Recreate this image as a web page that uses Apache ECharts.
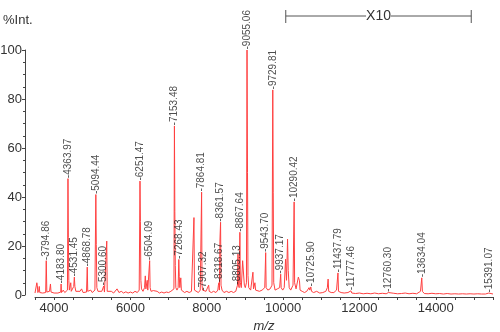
<!DOCTYPE html>
<html>
<head>
<meta charset="utf-8">
<script src="https://cdn.jsdelivr.net/npm/echarts@6/dist/echarts.min.js"></script>
<style>
html,body{margin:0;padding:0;background:#fff;}
#chart{width:500px;height:332px;}
</style>
</head>
<body>
<div id="chart"></div>
<script>
// Spectrum profile (m/z, %Int.)
var profileMz = [
3500,3530,3548,3560,3575,3600,3612,3625,3660,3700,3740,3780,3795,3810,3850,3880,3905,3920,3960,4000,
4050,4100,4150,4175,4184,4195,4240,4280,4320,4350,4364,4374,4386,4400,4425,4437,4450,4490,4515,4531,
4545,4570,4620,4680,4720,4760,4800,4850,4869,4882,4920,4960,5000,5040,5070,5094,5106,5120,5150,5200,
5250,5285,5301,5320,5360,5380,5392,5440,5500,5560,5600,5650,5700,5760,5820,5880,5940,6000,6060,6120,
6180,6230,6251,6262,6274,6290,6330,6370,6390,6405,6425,6440,6455,6490,6504,6516,6540,6600,6650,6700,
6760,6820,6880,6940,7000,7060,7110,7140,7153,7164,7176,7190,7220,7250,7268,7280,7295,7320,7335,7360,
7420,7480,7540,7600,7640,7665,7678,7720,7780,7830,7865,7876,7890,7907,7930,7980,8020,8050,8065,8120,
8180,8240,8290,8305,8319,8332,8345,8362,8374,8400,8450,8520,8580,8640,8700,8760,8790,8805,8818,8830,
8850,8868,8880,8905,8940,8966,8985,9010,9040,9055,9068,9080,9100,9150,9210,9225,9262,9280,9330,9380,
9450,9520,9544,9556,9600,9660,9710,9730,9742,9755,9790,9850,9910,9937,9950,9990,10030,10065,10090,10117,
10135,10160,10200,10260,10290,10302,10340,10400,10430,10445,10500,10560,10620,10680,10700,10726,10745,10800,10880,10960,
11040,11120,11160,11180,11195,11260,11330,11400,11438,11452,11520,11600,11700,11777,11800,11900,12000,12100,12200,12300,
12400,12500,12600,12700,12760,12800,12900,13000,13100,13200,13300,13400,13500,13600,13634,13650,13700,13800,13900,14000,
14100,14200,14300,14400,14500,14600,14700,14800,14900,15000,15100,15200,15300,15391,15500
];
var profileInt = [
0.8,1.5,5,4,1,2,3.5,1,1.8,0.8,1.5,1,14,1.2,0.8,1.5,4.5,1.2,2,0.8,
1.5,0.8,1.5,1.2,4.5,1,2,1,1.5,2,47.5,23.5,6,2,1.5,5,1.5,2,3.5,7.3,
3.5,1.5,1,1.5,2.5,1,1.8,1.2,11.4,1.5,1,2,1,1.5,2,41,20.7,3,1.5,1,
1.5,2,3.7,1.2,2,22,1.5,1,1.5,0.8,1.5,2.5,1,1.5,0.8,1.3,0.8,1.2,0.8,1.5,
1,2,46.5,30,6,2.5,1.5,3,7.8,2.5,3,6,2,2.5,14,3,1.5,1.8,1,1.5,
0.8,1.2,0.8,1.2,1,1.5,1.5,2.5,69,34,12,3,2,3,14.5,7.5,3,7,2,1.5,
1,1.5,1,1.5,2,31.6,2,1.5,1,2,42,4,2,1.5,1.2,1.5,1,4,1.5,1,
1.5,1,2,4,5,2,22,29.7,4,2,1,1.5,1,1.5,1,1.5,2,4,16.7,4,
3,25.6,5,3,14,14.6,4,3,5,100,50,8,3,2,9.3,2.5,5,2,2,1.5,
2,3,17.3,3,2,2.5,4,83.7,41.7,5,2,2.5,3,8.5,3,2,3,14.6,6,22.8,
10,3,2,4,38,5,2.5,7.3,5.8,2,1.5,1,1.5,3,2,3.3,1.5,1,1.5,0.8,
1,1.5,3,6.5,1.5,1,1,2,9,1.5,1,0.8,1,1.7,0.8,0.6,0.8,0.5,0.7,0.5,
0.8,0.5,0.7,0.5,1,0.5,0.7,0.5,0.6,0.8,0.5,0.7,0.5,1.5,7,1.5,0.6,0.5,0.7,0.5,
0.6,0.4,0.6,0.4,0.5,0.4,0.5,0.4,0.5,0.4,0.5,0.4,0.4,0.8,0.4
];
// Labelled peaks
var peakMz = [3794.86,4183.80,4363.97,4531.45,4868.78,5094.44,5300.60,6251.47,6504.09,7153.48,7268.43,7864.81,7907.32,8318.67,8361.57,8805.13,8867.64,9055.06,9543.70,9729.81,9937.17,10290.42,10725.90,11437.79,11777.46,12760.30,13634.04,15391.07];
var peakInt = [14,4.5,47.5,7.3,11.4,41,3.7,46.5,14,69,14.5,42,1.5,5,29.7,4,25.6,100,17.3,83.7,8.5,38,3.3,9,1.7,1,7,0.8];
var peakText = ['3794.86','4183.80','4363.97','4531.45','4868.78','5094.44','5300.60','6251.47','6504.09','7153.48','7268.43','7864.81','7907.32','8318.67','8361.57','8805.13','8867.64','9055.06','9543.70','9729.81','9937.17','10290.42','10725.90','11437.79','11777.46','12760.30','13634.04','15391.07'];
// Magnified-range bracket (m/z)
var zoomRange = [10070, 14930];
var zoomText = 'X10';
var yTitle = '%Int.';
var xTitle = 'm/z';

var lineData = profileMz.map(function (m, i) { return [m, profileInt[i]]; });
var peakData = peakMz.map(function (m, i) { return { value: [m, peakInt[i]], name: peakText[i] }; });

var chart = echarts.init(document.getElementById('chart'), null, { renderer: 'canvas' });
var axisCol = '#444';
var textCol = '#333';
chart.setOption({
  animation: false,
  backgroundColor: '#fff',
  grid: { left: 35, right: 7, top: 50, bottom: 37, containLabel: false, outerBoundsMode: 'none' },
  xAxis: {
    type: 'value', min: 3500, max: 15500, interval: 500,
    offset: 2,
    name: xTitle, nameLocation: 'middle', nameGap: 15,
    nameTextStyle: { fontFamily: 'Liberation Sans', fontSize: 13, fontStyle: 'italic', color: textCol },
    axisLine: { onZero: false, lineStyle: { color: axisCol, width: 1 } },
    axisTick: { show: true, length: 3, lineStyle: { color: axisCol } },
    splitLine: { show: false },
    axisLabel: {
      interval: 0, margin: 5, color: textCol, fontFamily: 'Liberation Sans', fontSize: 13,
      formatter: function (v) { return v % 2000 === 0 ? String(v) : ''; }
    }
  },
  yAxis: {
    type: 'value', min: 0, max: 100, interval: 20,
    position: 'left', offset: 10,
    axisLine: { show: true, lineStyle: { color: axisCol, width: 1 } },
    axisTick: { show: true, length: 3, lineStyle: { color: axisCol } },
    minorTick: { show: true, splitNumber: 4, length: 2, lineStyle: { color: axisCol } },
    splitLine: { show: false },
    axisLabel: { margin: 3, color: textCol, fontFamily: 'Liberation Sans', fontSize: 13 }
  },
  series: [
    {
      type: 'line', data: lineData, showSymbol: false, symbol: 'none',
      lineStyle: { color: '#ff4040', width: 1 }, sampling: null, z: 2
    },
    {
      type: 'scatter', data: peakData, symbolSize: 1,
      itemStyle: { color: 'rgba(0,0,0,0)' }, z: 3,
      label: {
        show: true, position: 'top', distance: 0, rotate: 90,
        align: 'left', verticalAlign: 'middle',
        fontFamily: 'Liberation Sans', fontSize: 10, color: '#222',
        formatter: function (p) { return '-' + p.name; }
      }
    }
  ]
});

var x0 = chart.convertToPixel({ xAxisIndex: 0 }, zoomRange[0]);
var x1 = chart.convertToPixel({ xAxisIndex: 0 }, zoomRange[1]);
var by = 16;
chart.setOption({
  graphic: [
    { type: 'text', left: 3, top: 14, style: { text: yTitle, fill: textCol, font: '13px "Liberation Sans"' } },
    { type: 'line', shape: { x1: x0, y1: by, x2: x1, y2: by }, style: { stroke: '#555', lineWidth: 1 } },
    { type: 'line', shape: { x1: x0, y1: by - 6, x2: x0, y2: by + 7 }, style: { stroke: '#555', lineWidth: 1 } },
    { type: 'line', shape: { x1: x1, y1: by - 6, x2: x1, y2: by + 7 }, style: { stroke: '#555', lineWidth: 1 } },
    { type: 'text', x: (x0 + x1) / 2, y: by, style: { text: zoomText, fill: textCol, font: '14px "Liberation Sans"', align: 'center', verticalAlign: 'middle', backgroundColor: '#fff' }, z: 10 }
  ]
});
</script>
</body>
</html>
